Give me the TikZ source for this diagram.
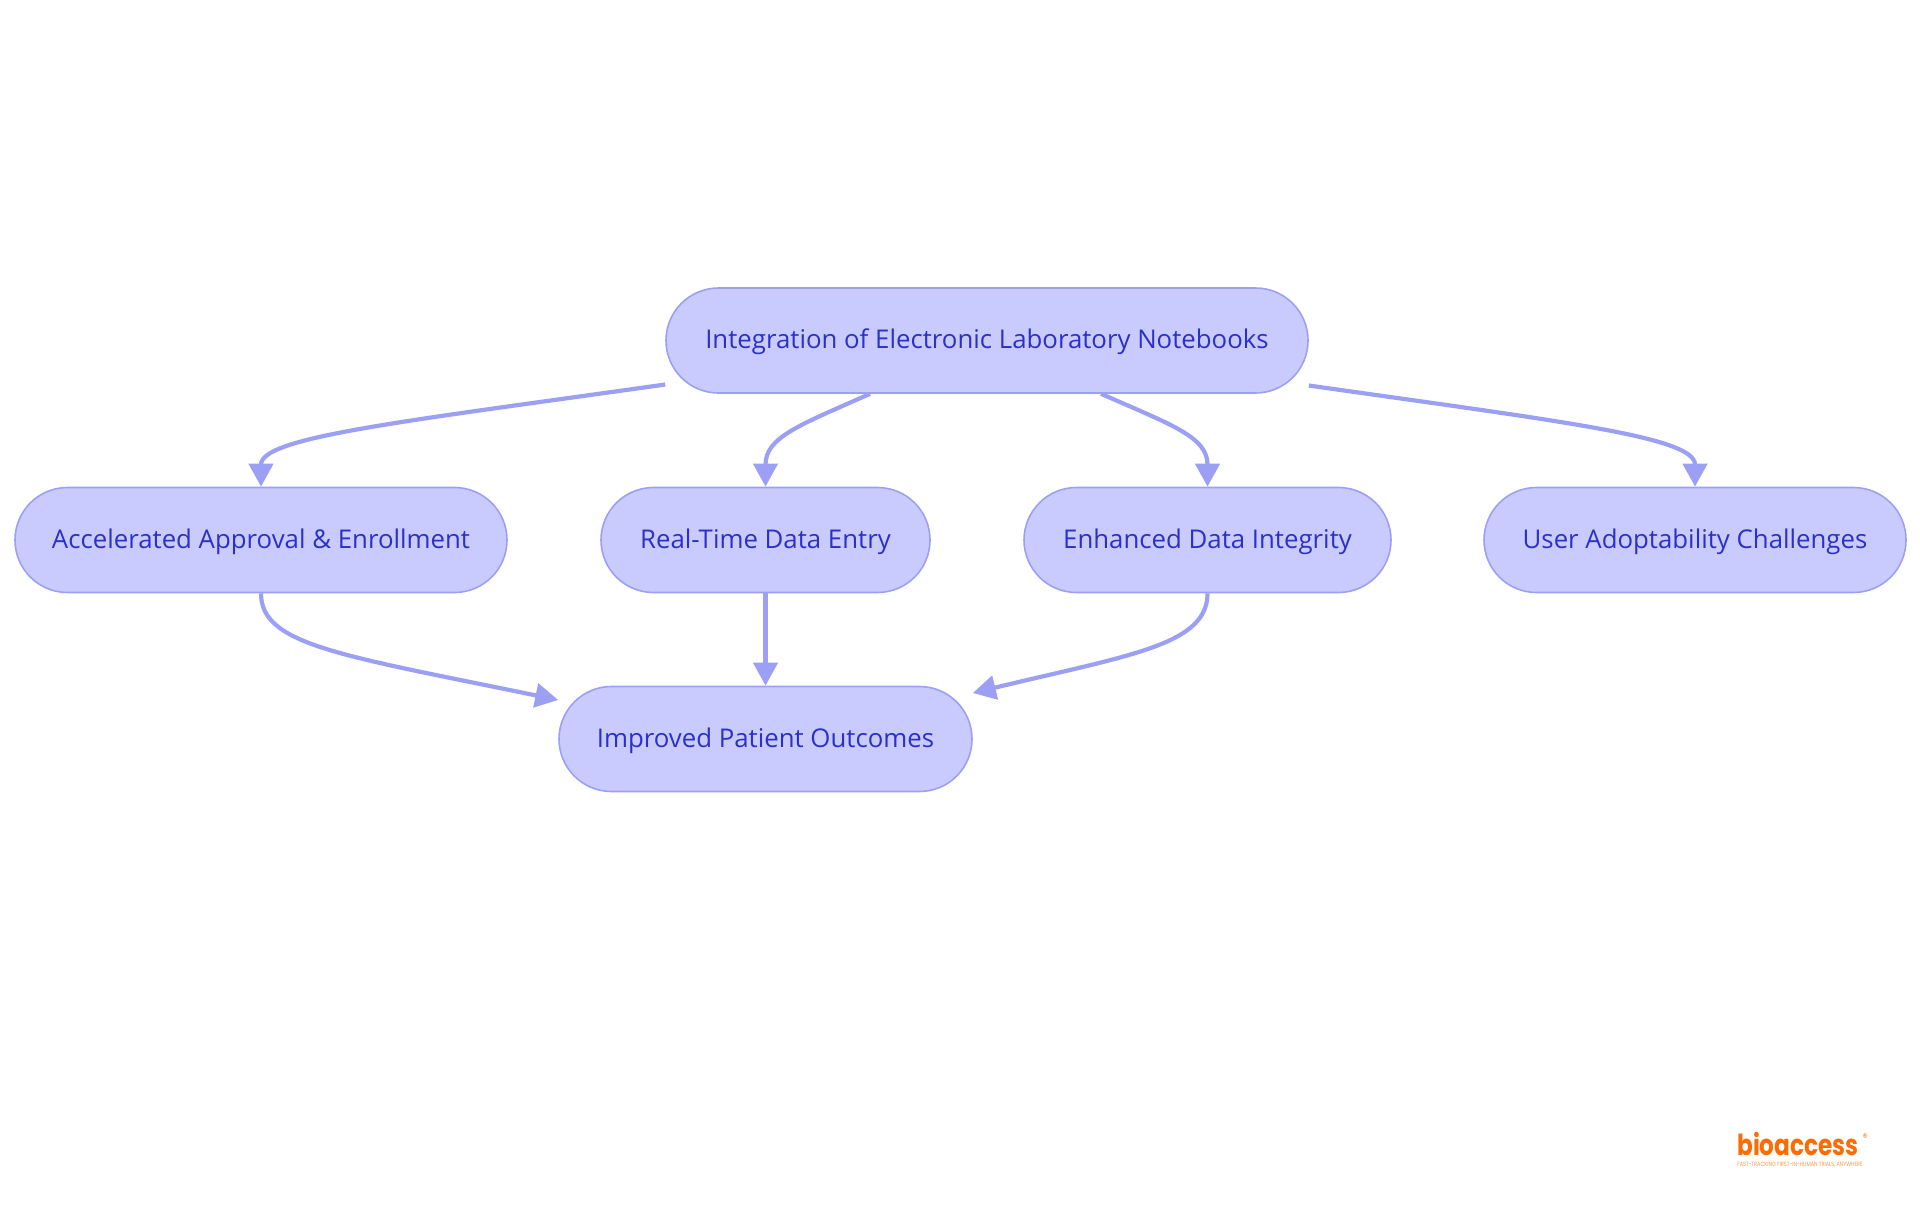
\documentclass[tikz,border=0pt]{standalone}
\usepackage{fontspec}
\usepackage{tikz}
\usepgflibrary{shapes}
\usetikzlibrary{shapes.misc,arrows.meta}
\setmainfont{Open Sans}
\newfontfamily\logofont[FakeStretch=0.8]{Poppins}
\definecolor{boxfill}{RGB}{201,203,255}
\definecolor{boxline}{RGB}{156,160,245}
\definecolor{boxtext}{RGB}{43,48,200}
\definecolor{logoorange}{RGB}{255,107,0}
\tikzset{
  box/.style={rounded rectangle, draw=boxline, line width=0.8pt, fill=boxfill, text=boxtext,
    inner sep=0pt, minimum height=52.5pt, text height=9.5pt, text depth=1.5pt, font=\fontsize{12.9}{14}\selectfont},
  link/.style={draw=boxline, line width=2.1pt, -{Triangle[length=11.5pt,width=12pt,fill=boxline]}}
}
\begin{document}
\begin{tikzpicture}[x=0.5pt,y=-0.5pt]
     \useasboundingbox (0,0) rectangle (1920,1215);
     \node[name=elnbox, box, minimum width=321pt] at (987,340.5){Integration of Electronic Laboratory Notebooks};
     \node[name=approval, box, minimum width=246pt] at (261,540){Accelerated Approval \& Enrollment};
     \node[name=realtime, box, minimum width=164.5pt] at (765.5,540){Real-Time Data Entry};
     \node[name=integrity, box, minimum width=183.5pt] at (1207.5,540){Enhanced Data Integrity};
     \node[name=adoption, box, minimum width=211pt] at (1695,540){User Adoptability Challenges};
     \node[name=outcomes, box, minimum width=206.5pt] at (765.5,739){Improved Patient Outcomes};
     \draw[link] ([yshift=-22pt]elnbox.west) .. controls (400,422) and (261,437) .. (approval.north);
     \draw[link] ([xshift=-58.5pt]elnbox.south) .. controls (800,425) and (765.5,437) .. (realtime.north);
     \draw[link] ([xshift=57pt]elnbox.south) .. controls (1172,425) and (1207.5,437) .. (integrity.north);
     \draw[link] ([yshift=-22.5pt]elnbox.east) .. controls (1565,422) and (1695,437) .. (adoption.north);
     \draw[link] (approval.south) .. controls (261,645) and (340,655) .. ([yshift=19.5pt]outcomes.west);
     \draw[link] (realtime.south) -- (outcomes.north);
     \draw[link] (integrity.south) .. controls (1207.5,645) and (1130,655) .. ([yshift=23pt]outcomes.east);
     \node[name=logo, text=logoorange, font=\logofont\bfseries\fontsize{14.5}{15}\selectfont, inner sep=0pt, text depth=0pt] at (1798,1143.5){bioaccess};
     \node[name=logoreg, text=logoorange, font=\logofont\fontsize{5.5}{6}\selectfont, inner sep=0pt] at (1865,1138){®};
     \node[name=tagline, text=logoorange!70, font=\logofont\fontsize{3.1}{3.2}\selectfont, inner sep=0pt] at (1800,1165){FAST-TRACKING FIRST-IN-HUMAN TRIALS, ANYWHERE};
  \end{tikzpicture}
\end{document}
